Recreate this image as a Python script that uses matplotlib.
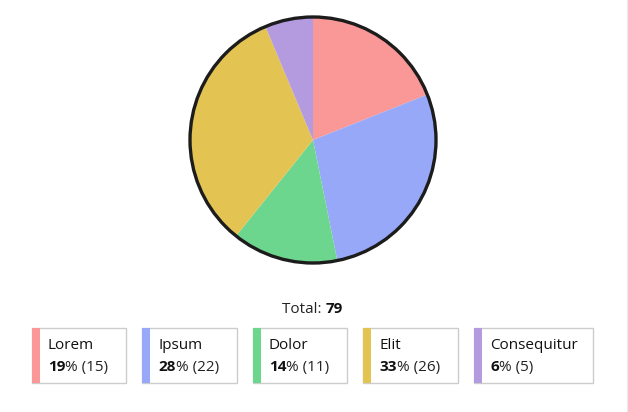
import matplotlib
matplotlib.use('Agg')
import matplotlib.pyplot as plt
from matplotlib import font_manager
from matplotlib.patches import Rectangle, Circle

# === Data ===
labels = ['Lorem', 'Ipsum', 'Dolor', 'Elit', 'Consequitur']
values = [15, 22, 11, 26, 5]
colors = ['#fa9797', '#97a8f8', '#6cd68f', '#e3c352', '#b49adf']

total = sum(values)
percents = [round(v / total * 100) for v in values]

# pick a family that has a real bold face
family = 'DejaVu Sans'
for name in ['Noto Sans', 'Open Sans', 'Roboto', 'Lato', 'Liberation Sans']:
    weights = [f.weight for f in font_manager.fontManager.ttflist if f.name == name]
    if any(w in ('bold', 700) or (isinstance(w, int) and w >= 700) for w in weights):
        family = name
        break
plt.rcParams['font.family'] = [family, 'DejaVu Sans']
FS = 11

W, H = 628, 412
fig = plt.figure(figsize=(W / 100, H / 100), dpi=100)
fig.patch.set_facecolor('white')

# === Pie ===
cx, cy, r = 313, 140, 123
half = 126
ax = fig.add_axes([(cx - half) / W, (H - cy - half) / H, 2 * half / W, 2 * half / H])
ax.pie(values, colors=colors, startangle=90, counterclock=False, radius=1,
       wedgeprops=dict(linewidth=0))
ax.add_patch(Circle((0, 0), 1, fill=False, ec='#1c1c1c', lw=2.4, clip_on=False))
ax.set_xlim(-half / r, half / r)
ax.set_ylim(-half / r, half / r)
ax.axis('off')

# === Overlay in pixel coordinates ===
ov = fig.add_axes([0, 0, 1, 1])
ov.set_xlim(0, W)
ov.set_ylim(H, 0)
ov.axis('off')
renderer = fig.canvas.get_renderer()


def width_of(t):
    return t.get_window_extent(renderer).width


# faint frame line on the right edge
ov.plot([627, 627], [0, H], color='#ececec', lw=1)

# Total line
t1 = ov.text(0, 313, 'Total: ', fontsize=FS, va='baseline', color='#222222')
t2 = ov.text(0, 313, str(total), fontsize=FS, va='baseline', fontweight='bold', color='#111111')
w1, w2 = width_of(t1), width_of(t2)
start = 312.5 - (w1 + w2) / 2
t1.set_x(start)
t2.set_x(start + w1)

# Legend boxes
bar, lpad, rpad, gap, maxw = 8, 8, 18, 16, 119
top, bottom = 328, 383
items = []
for lab, pct, val in zip(labels, percents, values):
    a = ov.text(0, 349, lab, fontsize=FS, va='baseline', color='#111111')
    b = ov.text(0, 371, str(pct), fontsize=FS, va='baseline', fontweight='bold', color='#111111')
    c = ov.text(0, 371, f'% ({val})', fontsize=FS, va='baseline', color='#222222')
    wb = width_of(b)
    tw = max(width_of(a), wb + width_of(c))
    items.append((a, b, c, wb, min(bar + lpad + tw + rpad, maxw)))

total_w = sum(it[4] for it in items) + gap * (len(items) - 1)
x = 312.5 - total_w / 2
for (a, b, c, wb, bw), col in zip(items, colors):
    ov.add_patch(Rectangle((x, top), bw, bottom - top, fill=False, ec='#cccccc', lw=1))
    ov.add_patch(Rectangle((x, top), bar, bottom - top, fc=col, ec='none'))
    a.set_x(x + bar + lpad)
    b.set_x(x + bar + lpad)
    c.set_x(x + bar + lpad + wb)
    x += bw + gap

fig.savefig('out.png', dpi=100, facecolor='white')
